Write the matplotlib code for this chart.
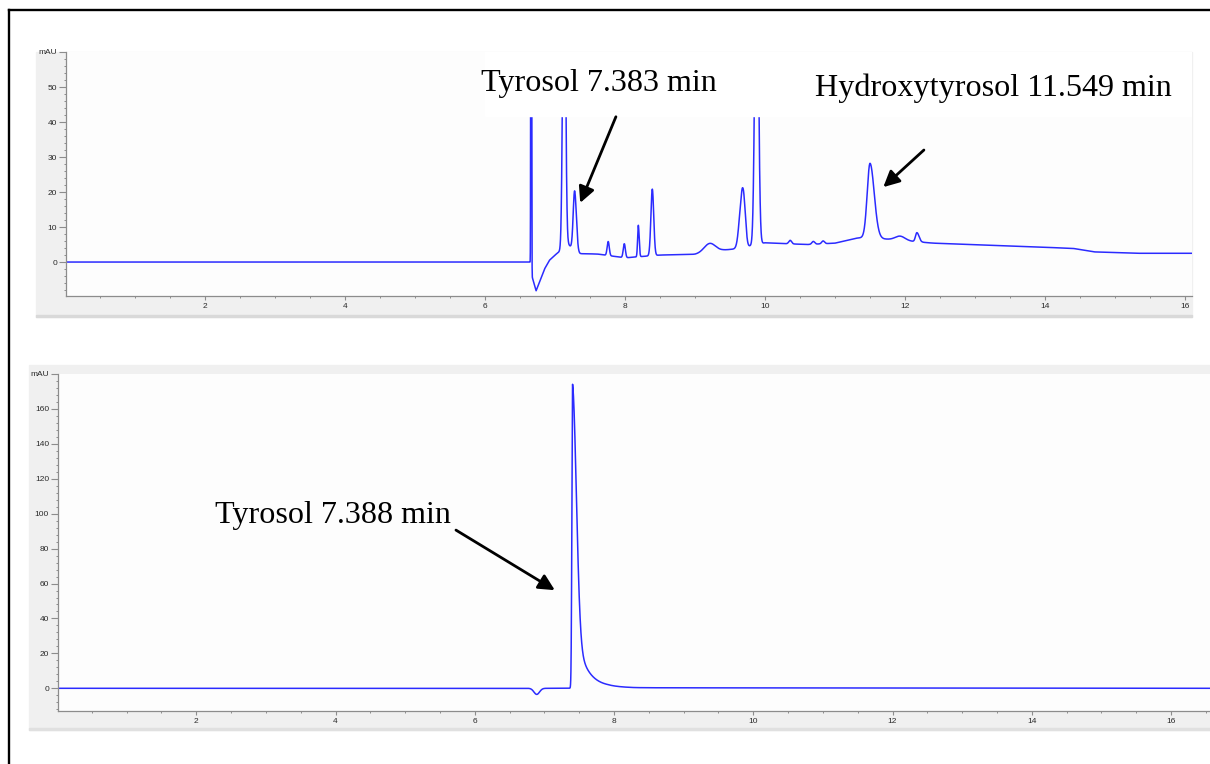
import numpy as np
import matplotlib.pyplot as plt
from matplotlib.patches import Rectangle
from matplotlib.lines import Line2D
from matplotlib.ticker import MultipleLocator

W, H = 1210, 764

# sample chromatogram: baseline anchors (min, mAU) and peaks (time, height, left/right sigma)
top_base_t = [0, 6.65, 6.67, 6.73, 6.85, 6.92, 7.0, 7.19, 7.33, 7.6, 8.0, 8.5, 9.0, 9.4,
              9.6, 10.0, 10.6, 11.0, 11.3, 11.5, 11.7, 12.4, 13.5, 14.4, 14.7, 15.3, 16.2]
top_base_v = [0, 0, -4, -8.2, -2, 0.5, 2.0, 5.0, 2.4, 2.3, 1.2, 2.0, 2.2, 3.4,
              3.8, 5.5, 5.0, 5.4, 6.8, 7.2, 6.6, 5.4, 4.6, 3.9, 2.9, 2.5, 2.5]
top_peak_t = [6.655, 6.665, 7.13, 7.28, 7.76, 7.99, 8.19, 8.39, 9.21, 9.665, 9.70, 9.88,
              10.36, 10.69, 10.83, 11.5, 11.93, 12.17]
top_peak_h = [95, 95, 95, 17, 4, 4, 9, 19, 2.5, 13, 12, 95,
              1.0, 0.8, 0.8, 21, 1.2, 2.6]
top_peak_wl = [0.003, 0.003, 0.02, 0.02, 0.015, 0.015, 0.01, 0.02, 0.08, 0.035, 0.02, 0.025,
               0.02, 0.02, 0.02, 0.04, 0.07, 0.02]
top_peak_wr = [0.003, 0.003, 0.02, 0.025, 0.015, 0.015, 0.012, 0.02, 0.08, 0.02, 0.025, 0.025,
               0.02, 0.02, 0.02, 0.06, 0.07, 0.03]

# tyrosol standard
bot_base_t = [0, 7.3, 7.9, 8.3, 16.6]
bot_base_v = [0, 0, 0.6, 0.3, 0]
bot_peak_t = [6.89, 7.405]
bot_peak_h = [-3.5, 131]
bot_peak_wl = [0.04, 0.01]
bot_peak_wr = [0.04, 0.055]
bot_tail_h = [43]      # exponential tail on the tyrosol peak
bot_tail_tau = [0.152]

trace_color = '#2b2bff'


def build_trace(t, base_t, base_v, pk_t, pk_h, pk_wl, pk_wr, tail_h=(), tail_tau=()):
    y = np.interp(t, base_t, base_v)
    for c, h, wl, wr in zip(pk_t, pk_h, pk_wl, pk_wr):
        w = np.where(t < c, wl, wr)
        y = y + h * np.exp(-0.5 * ((t - c) / w) ** 2)
    # tails start at the apex of the last peak, rise with its left flank
    for th, tau in zip(tail_h, tail_tau):
        c, wl = pk_t[-1], pk_wl[-1]
        d = t - c
        left = th * np.exp(-0.5 * (d / wl) ** 2)
        right = th * np.exp(-np.clip(d, 0, None) / tau)
        y = y + np.where(d < 0, left, right)
    return y


def fx(x):
    return x / W


def fy(y):
    return 1 - y / H


def style_axes(ax, ylo, ytop, ystep, yminor, xhi):
    ax.set_xlim(0.014, xhi)
    ax.set_ylim(ylo, ytop)
    for s in ['top', 'right']:
        ax.spines[s].set_visible(False)
    for s in ['left', 'bottom']:
        ax.spines[s].set_color('#8c8c8c')
        ax.spines[s].set_linewidth(0.9)
    yt = list(range(0, ytop + 1, ystep))
    ax.set_yticks(yt)
    ax.set_yticklabels([str(v) for v in yt[:-1]] + ['mAU'])
    ax.yaxis.set_minor_locator(MultipleLocator(yminor))
    xt = list(range(2, 17, 2))
    ax.set_xticks(xt)
    ax.set_xticklabels([str(v) for v in xt])
    ax.xaxis.set_minor_locator(MultipleLocator(0.5))
    ax.tick_params(axis='y', which='major', direction='out', length=5, width=0.8,
                   color='#8c8c8c', pad=1.5)
    ax.tick_params(axis='x', which='major', direction='out', length=3, width=0.8,
                   color='#8c8c8c', pad=2)
    ax.tick_params(which='minor', direction='out', length=1.6, width=0.7, color='#8c8c8c')
    for lab in ax.get_xticklabels() + ax.get_yticklabels():
        lab.set_fontfamily('Liberation Sans')
        lab.set_fontsize(6)
        lab.set_color('#2a2a2a')


fig = plt.figure(figsize=(W / 100, H / 100), dpi=100)
fig.patch.set_facecolor('white')

# grey instrument panels
fig.patches.append(Rectangle((fx(36), fy(317)), (1192 - 36) / W, (317 - 52) / H,
                             transform=fig.transFigure, color='#f0f0f0', zorder=-5))
fig.patches.append(Rectangle((fx(36), fy(317)), (1192 - 36) / W, 2.5 / H,
                             transform=fig.transFigure, color='#d9d9d9', zorder=-5))
fig.patches.append(Rectangle((fx(29), fy(730)), (1210 - 29) / W, (730 - 365) / H,
                             transform=fig.transFigure, color='#f0f0f0', zorder=-5))
fig.patches.append(Rectangle((fx(29), fy(730)), (1210 - 29) / W, 2.5 / H,
                             transform=fig.transFigure, color='#e0e0e0', zorder=-5))

# outer frame (left and top edges only)
fig.add_artist(Line2D([fx(9), fx(9)], [fy(10), 0], transform=fig.transFigure,
                      color='black', lw=1.7))
fig.add_artist(Line2D([fx(9), 1], [fy(10), fy(10)], transform=fig.transFigure,
                      color='black', lw=1.7))

# top chromatogram
ax1 = fig.add_axes([fx(66), fy(296), (1192 - 66) / W, (296 - 52) / H])
ax1.set_facecolor('#fdfdfd')
t1 = np.arange(0, 16.2, 0.001)
ax1.plot(t1, build_trace(t1, top_base_t, top_base_v, top_peak_t, top_peak_h,
                         top_peak_wl, top_peak_wr),
         color=trace_color, lw=1.1, zorder=2)
style_axes(ax1, -9.7, 60, 10, 2, 16.1)
ax1.add_patch(Rectangle((6.0, 41.6), 10.5, 20, color='white', zorder=3, clip_on=True))

# bottom chromatogram
ax2 = fig.add_axes([fx(58), fy(711), (1210 - 58) / W, (711 - 374) / H])
ax2.set_facecolor('#fdfdfd')
t2 = np.arange(0, 16.6, 0.001)
ax2.plot(t2, build_trace(t2, bot_base_t, bot_base_v, bot_peak_t, bot_peak_h,
                         bot_peak_wl, bot_peak_wr, bot_tail_h, bot_tail_tau),
         color=trace_color, lw=1.1, zorder=2)
style_axes(ax2, -13, 180, 20, 4, 16.56)

# labels and arrows
fs = 23.1
fig.text(fx(481), fy(91), 'Tyrosol 7.383 min', family='Liberation Serif', fontsize=fs,
         va='baseline', ha='left')
fig.text(fx(815), fy(96), 'Hydroxytyrosol 11.549 min', family='Liberation Serif', fontsize=fs,
         va='baseline', ha='left')
fig.text(fx(215), fy(523), 'Tyrosol 7.388 min', family='Liberation Serif', fontsize=fs,
         va='baseline', ha='left')

arrow = dict(arrowstyle='-|>', color='black', lw=2, mutation_scale=24, shrinkA=0, shrinkB=0)
ax1.annotate('', xy=(7.36, 16.9), xytext=(7.87, 41.5), arrowprops=arrow, zorder=4)
ax1.annotate('', xy=(11.69, 21.4), xytext=(12.27, 32), arrowprops=arrow, zorder=4)
ax2.annotate('', xy=(7.15, 56.2), xytext=(5.73, 90.6), arrowprops=arrow, zorder=4)

fig.savefig('out.png', dpi=100)
